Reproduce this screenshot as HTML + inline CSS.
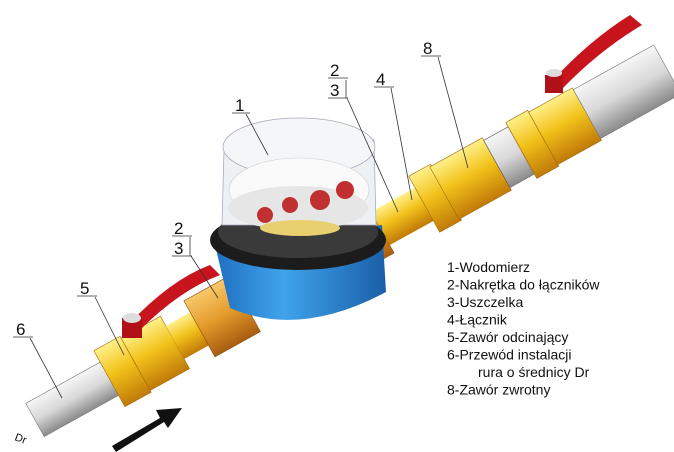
<!DOCTYPE html>
<html><head><meta charset="utf-8"><style>
html,body{margin:0;padding:0;background:#fff;}
svg{display:block;}
text{font-family:"Liberation Sans",sans-serif;fill:#111;}
</style></head><body>
<svg width="674" height="452" viewBox="0 0 674 452" xmlns="http://www.w3.org/2000/svg">
<defs>
<linearGradient id="gy" x1="0" y1="0" x2="0" y2="1"><stop offset="0" stop-color="#f6f6f6"/><stop offset=".5" stop-color="#d8d8d8"/><stop offset="1" stop-color="#8a8a8a"/></linearGradient>
<linearGradient id="yl" x1="0" y1="0" x2="0" y2="1"><stop offset="0" stop-color="#fff08a"/><stop offset=".45" stop-color="#f2c21a"/><stop offset="1" stop-color="#c07a08"/></linearGradient>
<linearGradient id="or" x1="0" y1="0" x2="0" y2="1"><stop offset="0" stop-color="#f9c86a"/><stop offset=".5" stop-color="#e39a2a"/><stop offset="1" stop-color="#a85c10"/></linearGradient>
<linearGradient id="bl" x1="0" y1="0" x2="1" y2="0"><stop offset="0" stop-color="#1f6fc0"/><stop offset=".4" stop-color="#3fa3ea"/><stop offset="1" stop-color="#1a5fa8"/></linearGradient>
</defs>
<g transform="translate(35,420) rotate(-29)">
 <rect x="0" y="-19" width="95" height="38" fill="url(#gy)" stroke="#777" stroke-width=".6"/>
 <rect x="85" y="-32" width="30" height="64" fill="url(#yl)" stroke="#a06a08" stroke-width=".6"/>
 <rect x="115" y="-30" width="45" height="60" fill="url(#yl)" stroke="#a06a08" stroke-width=".6"/>
 <rect x="160" y="-19" width="30" height="38" fill="url(#yl)"/>
 <rect x="188" y="-32" width="52" height="64" fill="url(#or)" stroke="#8a4e0a" stroke-width=".6"/>
 <rect x="370" y="-17" width="20" height="34" fill="url(#yl)"/>
 <rect x="355" y="-28" width="40" height="56" fill="url(#or)" stroke="#8a4e0a" stroke-width=".6"/>
 <rect x="395" y="-19" width="55" height="38" fill="url(#yl)"/>
 <rect x="445" y="-32" width="25" height="64" fill="url(#yl)" stroke="#a06a08" stroke-width=".6"/>
 <rect x="468" y="-30" width="60" height="60" fill="url(#yl)" stroke="#a06a08" stroke-width=".6"/>
 <rect x="528" y="-27" width="28" height="54" fill="url(#gy)" stroke="#555" stroke-width=".6"/>
 <rect x="556" y="-32" width="25" height="64" fill="url(#yl)" stroke="#a06a08" stroke-width=".6"/>
 <rect x="581" y="-30" width="50" height="60" fill="url(#yl)" stroke="#a06a08" stroke-width=".6"/>
 <rect x="631" y="-28" width="92" height="56" fill="url(#gy)" stroke="#777" stroke-width=".6"/>
</g>
<path d="M215 245 L382 225 L386 292 Q300 338 230 308 Z" fill="url(#bl)"/>
<ellipse cx="298" cy="240" rx="88" ry="30" fill="#1c1c1c"/>
<ellipse cx="298" cy="232" rx="80" ry="26" fill="#3a3a3a"/>
<path d="M222 225 L224 150 Q295 112 374 140 L376 225 Z" fill="#eef1f4" stroke="#aab" stroke-width=".8"/>
<ellipse cx="299" cy="147" rx="76" ry="29" fill="#f4f6f8" stroke="#aab" stroke-width=".8"/>
<ellipse cx="299" cy="190" rx="70" ry="32" fill="#fafafa" stroke="#ccc" stroke-width=".6"/>
<ellipse cx="298" cy="208" rx="70" ry="22" fill="#e6e6e6"/>
<circle cx="290" cy="205" r="8" fill="#c03030"/><circle cx="320" cy="200" r="10" fill="#c03030"/><circle cx="345" cy="190" r="9" fill="#c03030"/><circle cx="265" cy="215" r="8" fill="#c03030"/>
<ellipse cx="300" cy="228" rx="40" ry="8" fill="#e8d070"/>
<path d="M128 325 Q170 280 210 265 L220 275 Q180 290 140 330 Z" fill="#c8141c"/>
<rect x="122" y="318" width="20" height="20" fill="#b01018"/><ellipse cx="132" cy="318" rx="9" ry="5" fill="#ddd"/>
<path d="M553 80 Q590 40 630 15 L642 25 Q600 50 563 88 Z" fill="#c8141c"/>
<rect x="545" y="75" width="18" height="18" fill="#b01018"/><ellipse cx="554" cy="73" rx="8" ry="4" fill="#ddd"/>
<path d="M112 446 L160 418 L156 410 L182 408 L168 428 L164 422 L116 452 Z" fill="#111"/>
<g stroke="#333" stroke-width=".8" fill="none">
<line x1="232" y1="113" x2="250" y2="113"/><line x1="246" y1="114" x2="268" y2="155"/>
<line x1="328" y1="78" x2="348" y2="78"/><line x1="328" y1="98" x2="348" y2="98"/><line x1="346" y1="80" x2="346" y2="98"/><line x1="347" y1="98" x2="398" y2="212"/>
<line x1="374" y1="87" x2="394" y2="87"/><line x1="391" y1="88" x2="412" y2="200"/>
<line x1="421" y1="56" x2="441" y2="56"/><line x1="438" y1="57" x2="468" y2="168"/>
<line x1="172" y1="236" x2="192" y2="236"/><line x1="172" y1="256" x2="192" y2="256"/><line x1="190" y1="237" x2="190" y2="256"/><line x1="191" y1="256" x2="218" y2="298"/>
<line x1="77" y1="296" x2="97" y2="296"/><line x1="95" y1="297" x2="124" y2="355"/>
<line x1="13" y1="337" x2="33" y2="337"/><line x1="30" y1="338" x2="62" y2="398"/>
</g>
<g font-size="17">
<text x="235" y="111">1</text><text x="330" y="76">2</text><text x="330" y="96">3</text>
<text x="376" y="85">4</text><text x="423" y="54">8</text>
<text x="174" y="234">2</text><text x="174" y="254">3</text>
<text x="80" y="294">5</text><text x="16" y="335">6</text>
</g>
<text x="14" y="440" font-size="11" transform="rotate(20 14 440)">Dr</text>
<g font-size="14">
<text x="447" y="272">1-Wodomierz</text>
<text x="447" y="289.5">2-Nakrętka do łączników</text>
<text x="447" y="307">3-Uszczelka</text>
<text x="447" y="324.5">4-Łącznik</text>
<text x="447" y="342">5-Zawór odcinający</text>
<text x="447" y="359.5">6-Przewód instalacji</text>
<text x="478" y="377">rura o średnicy Dr</text>
<text x="447" y="394.5">8-Zawór zwrotny</text>
</g>
</svg>
</body></html>
